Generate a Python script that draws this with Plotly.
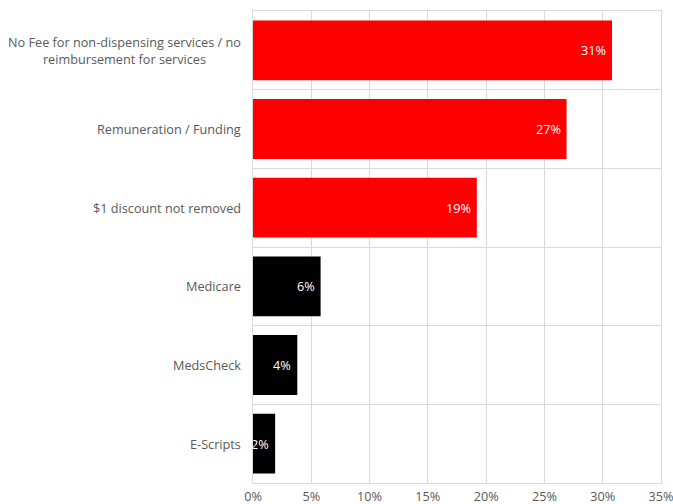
import plotly.graph_objects as go

# Survey responses: share of respondents naming each issue
categories = [
    "No Fee for non-dispensing services / no<br>reimbursement for services",
    "Remuneration / Funding",
    "$1 discount not removed",
    "Medicare",
    "MedsCheck",
    "E-Scripts",
]
shares = [30.8, 26.9, 19.2, 5.8, 3.8, 1.9]
bar_colors = ["#FF0000", "#FF0000", "#FF0000", "#000000", "#000000", "#000000"]
x_ticks = [0, 5, 10, 15, 20, 25, 30, 35]

FONT = "Open Sans"
FSIZE = 12.7
GREY_TEXT = "#595959"
GRID = "#D9D9D9"

fig = go.Figure(
    go.Bar(
        x=shares,
        y=categories,
        orientation="h",
        marker=dict(color=bar_colors, line=dict(width=0)),
        hoverinfo="skip",
    )
)

# Category labels, centred line-by-line and right-aligned to the axis
annotations = [
    dict(
        x=0, xref="paper", y=cat, yref="y",
        text=cat, showarrow=False,
        xanchor="right", yanchor="middle", align="center",
        xshift=-10,
        font=dict(family=FONT, size=FSIZE, color=GREY_TEXT),
    )
    for cat in categories
]
# Value labels at the inside end of each bar
annotations += [
    dict(
        x=v, xref="x", y=cat, yref="y",
        text=f"{v:.0f}%", showarrow=False,
        xanchor="right", yanchor="middle",
        xshift=-4,
        font=dict(family=FONT, size=FSIZE, color="#FFFFFF"),
    )
    for cat, v in zip(categories, shares)
]

fig.update_layout(
    width=673,
    height=504,
    autosize=False,
    margin=dict(l=253, r=12, t=11, b=21),
    paper_bgcolor="#FFFFFF",
    plot_bgcolor="#FFFFFF",
    bargap=0.24,
    showlegend=False,
    font=dict(family=FONT, size=FSIZE, color=GREY_TEXT),
    annotations=annotations,
)

fig.update_xaxes(
    range=[0, 35],
    tickvals=x_ticks,
    ticktext=[f"{t}%" for t in x_ticks],
    showgrid=True,
    gridcolor=GRID,
    gridwidth=1,
    zeroline=False,
    showline=True,
    linecolor=GRID,
    mirror=True,
    ticks="",
    automargin=False,
    ticklabeloverflow="allow",
    ticklabelstandoff=2,
    tickfont=dict(family=FONT, size=FSIZE, color=GREY_TEXT),
)

fig.update_yaxes(
    type="category",
    categoryorder="array",
    categoryarray=categories,
    autorange="reversed",
    tickson="boundaries",
    showgrid=True,
    gridcolor=GRID,
    gridwidth=1,
    showline=True,
    linecolor=GRID,
    mirror=True,
    ticks="",
    showticklabels=False,
    automargin=False,
)

fig.write_html("out.html")
